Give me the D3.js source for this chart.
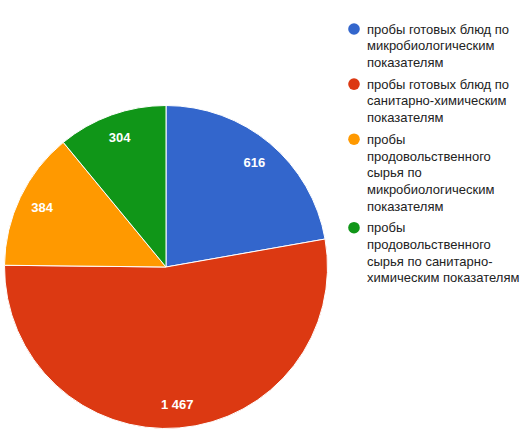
<html lang="ru">
<head>
<meta charset="UTF-8">
<script src="https://d3js.org/d3.v7.min.js"></script>
<style>
    body { margin: 0; background: #fff; }
    text { font-family: "Liberation Sans", Arial, sans-serif; }
</style>
</head>
<body>
<div id="chart"></div>
<script>
    // legend labels, already broken into lines as in the picture
    const categories = [
        ["пробы готовых блюд по", "микробиологическим", "показателям"],
        ["пробы готовых блюд по", "санитарно-химическим", "показателям"],
        ["пробы", "продовольственного", "сырья по", "микробиологическим", "показателям"],
        ["пробы", "продовольственного", "сырья по санитарно-", "химическим показателям"]
    ];
    const values = [616, 1467, 384, 304];
    const valueLabels = ["616", "1 467", "384", "304"];
    const colors = ["#3366cc", "#dc3912", "#ff9900", "#109618"];

    const w = 525, h = 442;
    const cx = 166, cy = 267, r = 161.5;

    const svg = d3.select("#chart").append("svg")
        .attr("width", w)
        .attr("height", h);

    const pie = d3.pie().sort(null).value(d => d);
    const arcs = pie(values);
    const arc = d3.arc().innerRadius(0).outerRadius(r);
    const labelArc = d3.arc().innerRadius(r * 0.85).outerRadius(r * 0.85);

    const g = svg.append("g").attr("transform", `translate(${cx},${cy})`);

    g.selectAll("path")
        .data(arcs)
        .enter()
        .append("path")
        .attr("d", arc)
        .attr("fill", (d, i) => colors[i])
        .attr("stroke", "#fff")
        .attr("stroke-width", 1);

    g.selectAll("text")
        .data(arcs)
        .enter()
        .append("text")
        .attr("transform", d => `translate(${labelArc.centroid(d)})`)
        .attr("text-anchor", "middle")
        .attr("dy", "0.36em")
        .attr("fill", "#fff")
        .attr("font-size", 13)
        .attr("font-weight", "bold")
        .text((d, i) => valueLabels[i]);

    // legend
    const lineH = 16.7, gap = 5;
    let y = 29;
    const legend = svg.append("g");
    categories.forEach((lines, i) => {
        legend.append("circle")
            .attr("cx", 354)
            .attr("cy", y)
            .attr("r", 5.8)
            .attr("fill", colors[i]);
        const t = legend.append("text")
            .attr("x", 367)
            .attr("y", y)
            .attr("dy", "0.36em")
            .attr("fill", "#222")
            .attr("font-size", 13);
        lines.forEach((s, j) => {
            t.append("tspan")
                .attr("x", 367)
                .attr("dy", j === 0 ? "0.36em" : lineH)
                .text(s);
        });
        y += lines.length * lineH + gap;
    });
</script>
</body>
</html>
